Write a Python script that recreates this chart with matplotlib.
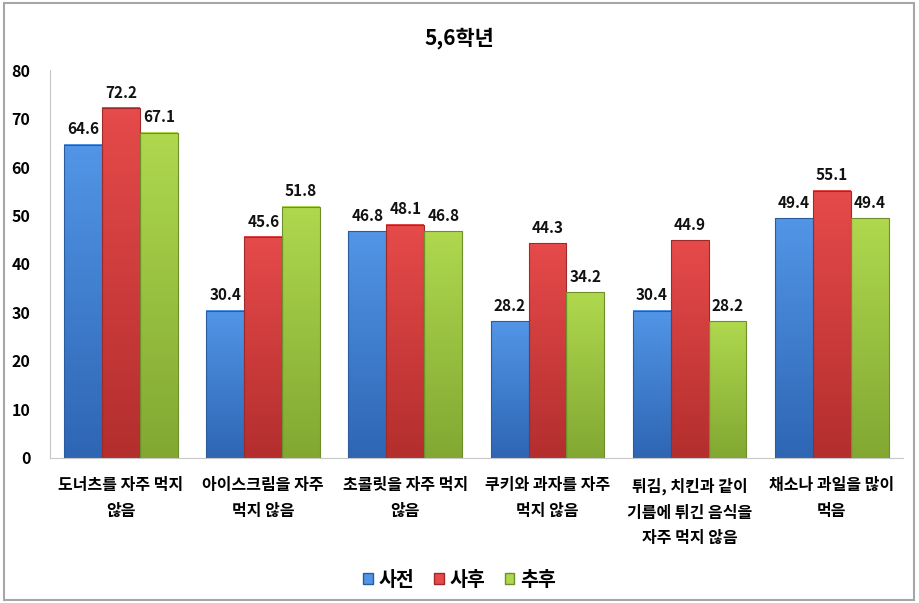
import matplotlib
matplotlib.use("Agg")

import matplotlib.pyplot as plt
import numpy as np
from matplotlib.colors import LinearSegmentedColormap
from matplotlib.patches import Rectangle

plt.rcParams["font.family"] = ["Noto Sans CJK KR", "DejaVu Sans"]

TITLE = "5,6학년"
CATEGORIES = [
    "도너츠를 자주 먹지\n않음",
    "아이스크림을 자주\n먹지 않음",
    "초콜릿을 자주 먹지\n않음",
    "쿠키와 과자를 자주\n먹지 않음",
    "튀김, 치킨과 같이\n기름에 튀긴 음식을\n자주 먹지 않음",
    "채소나 과일을 많이\n먹음",
]
SERIES = ["사전", "사후", "추후"]
PRE = [64.6, 30.4, 46.8, 28.2, 30.4, 49.4]
POST = [72.2, 45.6, 48.1, 44.3, 44.9, 55.1]
FOLLOW = [67.1, 51.8, 46.8, 34.2, 28.2, 49.4]
Y_TICKS = [0, 10, 20, 30, 40, 50, 60, 70, 80]

# (top colour, bottom colour, edge colour)
COLORS = [
    ("#5295E6", "#2E66B4", "#2A5C9E"),
    ("#E64A4A", "#B42E2E", "#9E2A2A"),
    ("#AFD84E", "#82A832", "#6F8F2A"),
]

fig = plt.figure(figsize=(9.19, 6.03), dpi=100)
ax = fig.add_axes([0.0544, 0.2405, 0.928, 0.6434])

# outer frame like the spreadsheet chart area
fig.patches.append(Rectangle((0.004, 0.005), 0.991, 0.99, transform=fig.transFigure,
                             fill=False, edgecolor="#A6A6A6", linewidth=1.5))

x = np.arange(len(CATEGORIES))
width = 0.8 / 3
values = [PRE, POST, FOLLOW]
grad = np.linspace(0, 1, 64).reshape(-1, 1)

for i, (vals, (top, bottom, edge)) in enumerate(zip(values, COLORS)):
    cmap = LinearSegmentedColormap.from_list(f"g{i}", [bottom, top])
    offs = x + (i - 1) * width
    bars = ax.bar(offs, vals, width, color="none", edgecolor=edge, linewidth=0.8,
                  label=SERIES[i], zorder=3)
    for b, v in zip(bars, vals):
        bx = b.get_x()
        ax.imshow(grad, cmap=cmap, aspect="auto", origin="lower",
                  extent=(bx, bx + width, 0, v), zorder=2)
        ax.text(bx + width / 2, v + 1.5, f"{v:.1f}", ha="center", va="bottom",
                fontsize=11, fontweight="bold", color="#111111")

ax.set_xlim(-0.5, len(CATEGORIES) - 0.5)
ax.set_ylim(0, 80)
ax.set_yticks(Y_TICKS)
ax.set_yticklabels([str(t) for t in Y_TICKS], fontsize=11.5, fontweight="bold")
ax.set_xticks(x)
ax.set_xticklabels(CATEGORIES, fontsize=11.5, fontweight="bold", linespacing=1.75,
                   va="top")
ax.tick_params(axis="both", length=0)
ax.tick_params(axis="y", pad=14)
ax.tick_params(axis="x", pad=14)

for s in ["top", "right"]:
    ax.spines[s].set_visible(False)
ax.spines["left"].set_color("#C8C8C8")
ax.spines["bottom"].set_color("#C8C8C8")

fig.text(0.5, 0.937, TITLE, ha="center", va="center", fontsize=15, fontweight="bold")

handles = [Rectangle((0, 0), 1, 1, facecolor=c[0], edgecolor=c[2]) for c in COLORS]
fig.legend(handles, SERIES, loc="center", bbox_to_anchor=(0.5, 0.038), ncol=3,
           frameon=False, handlelength=0.5, handleheight=0.5,
           handletextpad=0.3, columnspacing=1.0,
           prop={"size": 14, "weight": "bold"})

fig.savefig("out.png", dpi=100)
